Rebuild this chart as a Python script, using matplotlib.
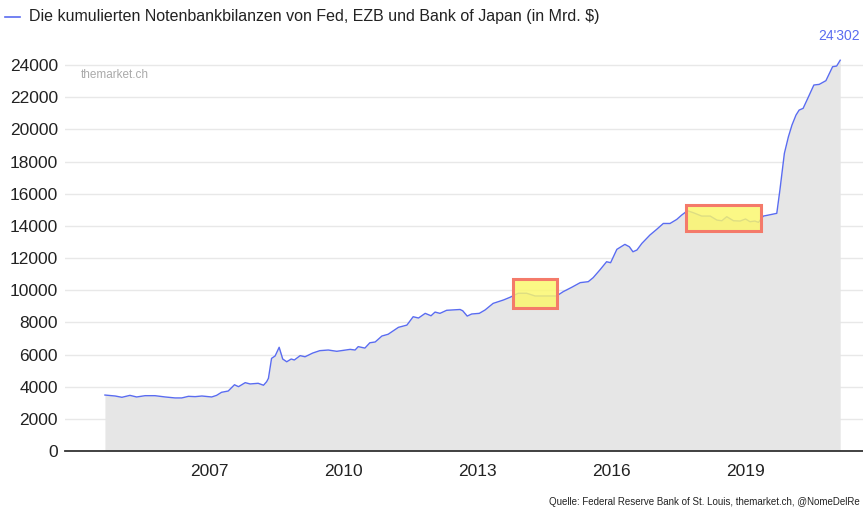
import matplotlib.pyplot as plt
from matplotlib.patches import Rectangle

# Decimal years (as positioned on the chart) and balance sheet totals (Mrd. $)
years = [2004.67, 2004.90, 2005.05, 2005.23, 2005.38, 2005.57, 2005.79, 2006.02,
         2006.24, 2006.39, 2006.54, 2006.69, 2006.84, 2007.06, 2007.17, 2007.28,
         2007.43, 2007.57, 2007.66, 2007.81, 2007.92, 2008.10, 2008.22, 2008.29,
         2008.33, 2008.40, 2008.48, 2008.57, 2008.65, 2008.74, 2008.84, 2008.91,
         2009.04, 2009.15, 2009.32, 2009.48, 2009.67, 2009.86, 2010.16, 2010.27,
         2010.34, 2010.49, 2010.60, 2010.72, 2010.87, 2011.01, 2011.24, 2011.43,
         2011.57, 2011.69, 2011.84, 2011.97, 2012.06, 2012.17, 2012.32, 2012.62,
         2012.68, 2012.78, 2012.88, 2013.05, 2013.18, 2013.36, 2013.59, 2013.74,
         2013.92, 2014.11, 2014.30, 2014.41, 2014.63, 2014.78, 2014.93, 2015.12,
         2015.31, 2015.49, 2015.60, 2015.75, 2015.90, 2015.99, 2016.13, 2016.31,
         2016.41, 2016.49, 2016.58, 2016.69, 2016.87, 2017.02, 2017.17, 2017.32,
         2017.47, 2017.58, 2017.71, 2017.84, 2018.03, 2018.22, 2018.37, 2018.48,
         2018.59, 2018.74, 2018.89, 2019.01, 2019.11, 2019.22, 2019.30, 2019.41,
         2019.52, 2019.71, 2019.78, 2019.88, 2019.97, 2020.05, 2020.14, 2020.21,
         2020.30, 2020.42, 2020.54, 2020.66, 2020.81, 2020.96, 2021.05, 2021.13]
values = [3480, 3420, 3340, 3460, 3360, 3440, 3440, 3360,
          3300, 3300, 3400, 3380, 3420, 3360, 3460, 3650,
          3730, 4120, 4000, 4250, 4170, 4210, 4090, 4310,
          4520, 5760, 5910, 6450, 5720, 5550, 5720, 5660,
          5930, 5860, 6090, 6240, 6280, 6200, 6320, 6280,
          6490, 6400, 6730, 6780, 7150, 7260, 7690, 7830,
          8350, 8270, 8560, 8410, 8640, 8560, 8750, 8800,
          8720, 8390, 8520, 8560, 8770, 9180, 9390, 9560,
          9810, 9810, 9640, 9640, 9640, 9640, 9910, 10180,
          10470, 10530, 10780, 11260, 11770, 11710, 12540, 12850,
          12700, 12390, 12500, 12910, 13430, 13780, 14150, 14150,
          14400, 14670, 14940, 14820, 14610, 14610, 14360, 14320,
          14570, 14320, 14300, 14430, 14260, 14300, 14220, 14610,
          14670, 14780, 16230, 18510, 19540, 20270, 20890, 21200,
          21310, 22030, 22760, 22800, 23030, 23900, 23940, 24302]

tick_years = [2007, 2010, 2013, 2016, 2019]
y_ticks = list(range(0, 24001, 2000))
# highlighted phases: (start year, end year, low, high)
boxes = [(2013.81, 2014.79, 8890, 10700),
         (2017.68, 2019.36, 13680, 15300)]

title = "Die kumulierten Notenbankbilanzen von Fed, EZB und Bank of Japan (in Mrd. $)"
source = "Quelle: Federal Reserve Bank of St. Louis, themarket.ch, @NomeDelRe"
last_label = "24'302"

plt.rcParams['font.family'] = ['Liberation Sans', 'DejaVu Sans']

fig = plt.figure(figsize=(8.63, 5.08), dpi=100)
ax = fig.add_axes([65 / 863, 57 / 508, 1 - 65 / 863, 402 / 508])

line_col = '#5a6cf0'
ax.fill_between(years, values, 0, color='#e6e6e6', lw=0, zorder=2)
ax.plot(years, values, color=line_col, lw=1.0, zorder=3)

for x0, x1, y0, y1 in boxes:
    ax.add_patch(Rectangle((x0, y0), x1 - x0, y1 - y0, facecolor='#fbf76a',
                           alpha=0.82, edgecolor='none', zorder=4))
    ax.add_patch(Rectangle((x0, y0), x1 - x0, y1 - y0, facecolor='none',
                           edgecolor='#f47a6a', lw=2.2, zorder=5))

ax.set_xlim(2003.776, 2021.64)
ax.set_ylim(0, 25000)
ax.set_yticks(y_ticks)
ax.set_xticks(tick_years)
ax.set_xticklabels([str(y) for y in tick_years])
ax.tick_params(axis='both', length=0, labelsize=12.5, colors='#222222')
ax.tick_params(axis='y', pad=5)
ax.tick_params(axis='x', pad=9)
ax.grid(axis='y', color='#e8e8e8', lw=1, zorder=1)
ax.set_axisbelow(True)
for s in ['top', 'right', 'left']:
    ax.spines[s].set_visible(False)
ax.spines['bottom'].set_color('#333333')
ax.spines['bottom'].set_linewidth(1.3)
ax.spines['bottom'].set_zorder(6)

ax.text(2021.56, values[-1] + 1100, last_label, color=line_col,
        fontsize=10, ha='right', va='bottom')
ax.text(2004.13, 23000, 'themarket.ch', color='#aaaaaa', fontsize=8.5,
        va='bottom')

# legend-like title at the top
fig.add_artist(plt.Line2D([5 / 863, 20 / 863], [1 - 17 / 508, 1 - 17 / 508],
                          color=line_col, lw=1.2))
fig.text(29 / 863, 1 - 17 / 508, title, fontsize=11.5, va='center', color='#222222')
fig.text(860 / 863, 1 - 502 / 508, source, fontsize=7.0, va='center',
         ha='right', color='#222222')

fig.savefig('out.png', dpi=100)
